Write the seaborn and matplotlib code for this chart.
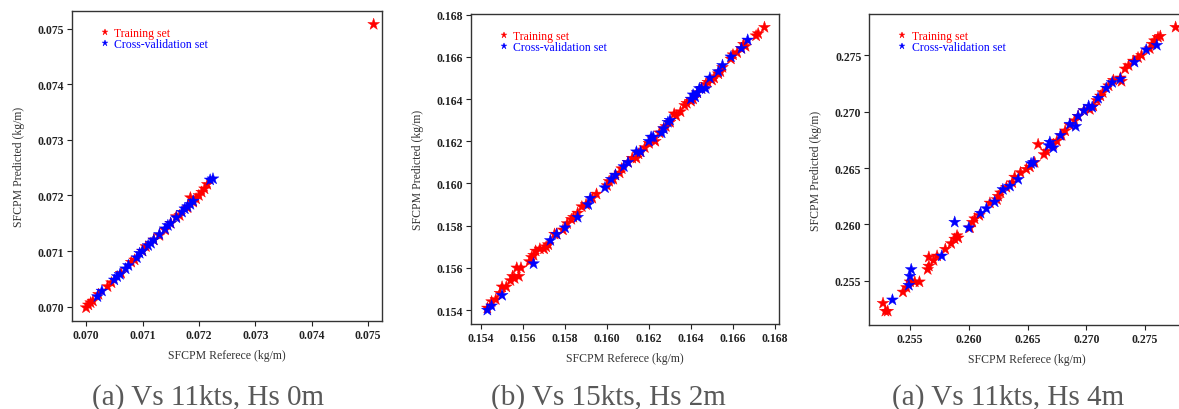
import matplotlib
matplotlib.use("Agg")
import matplotlib.pyplot as plt
import seaborn as sns
import pandas as pd

# ---------------- data ----------------
# Panel (a) Vs 11kts, Hs 0m
p1_train_x = [0.07000, 0.07004, 0.07008, 0.07012, 0.07022, 0.07038, 0.07045, 0.07062, 0.07080, 0.07086,
              0.07100, 0.07106, 0.07120, 0.07130, 0.07140, 0.07150, 0.07160, 0.07166, 0.07180, 0.07185,
              0.07190, 0.07195, 0.07200, 0.07205, 0.07210, 0.07215, 0.07510]
p1_train_y = [0.06998, 0.07003, 0.07007, 0.07010, 0.07022, 0.07036, 0.07043, 0.07060, 0.07080, 0.07084,
              0.07100, 0.07108, 0.07120, 0.07128, 0.07138, 0.07150, 0.07162, 0.07164, 0.07178, 0.07196,
              0.07188, 0.07194, 0.07200, 0.07206, 0.07212, 0.07220, 0.07508]
p1_cv_x = [0.07020, 0.07028, 0.07050, 0.07055, 0.07060, 0.07070, 0.07075, 0.07090, 0.07095, 0.07100,
           0.07110, 0.07115, 0.07120, 0.07130, 0.07140, 0.07145, 0.07150, 0.07160, 0.07170, 0.07175,
           0.07180, 0.07185, 0.07190, 0.07220, 0.07225]
p1_cv_y = [0.07018, 0.07028, 0.07048, 0.07054, 0.07058, 0.07068, 0.07074, 0.07088, 0.07096, 0.07100,
           0.07110, 0.07114, 0.07120, 0.07130, 0.07140, 0.07146, 0.07150, 0.07160, 0.07170, 0.07176,
           0.07180, 0.07184, 0.07190, 0.07228, 0.07230]

# Panel (b) Vs 15kts, Hs 2m
p2_train_x = [0.1543, 0.1545, 0.1547, 0.1549, 0.1550, 0.1552, 0.1554, 0.1555, 0.1556, 0.1557,
              0.1558, 0.1559, 0.1563, 0.1564, 0.1565, 0.1566, 0.1568, 0.1570, 0.1571, 0.1572,
              0.1575, 0.1576, 0.1579, 0.1581, 0.1583, 0.1584, 0.1586, 0.1588, 0.1590, 0.1593,
              0.1595, 0.1600, 0.1601, 0.1603, 0.1604, 0.1606, 0.1607, 0.1610, 0.1612, 0.1614,
              0.1615, 0.1616, 0.1618, 0.1620, 0.1622, 0.1623, 0.1625, 0.1627, 0.1628, 0.1630,
              0.1632, 0.1633, 0.1635, 0.1637, 0.1638, 0.1640, 0.1641, 0.1643, 0.1645, 0.1647,
              0.1648, 0.1650, 0.1651, 0.1653, 0.1654, 0.1655, 0.1659, 0.1660, 0.1662, 0.1664,
              0.1665, 0.1666, 0.1671, 0.1672, 0.1675]
p2_train_y = [0.1541, 0.1544, 0.1545, 0.1548, 0.1551, 0.1551, 0.1554, 0.1556, 0.1555, 0.1560,
              0.1556, 0.1560, 0.1563, 0.1565, 0.1566, 0.1568, 0.1569, 0.1569, 0.1570, 0.1571,
              0.1576, 0.1576, 0.1578, 0.1581, 0.1583, 0.1584, 0.1586, 0.1589, 0.1590, 0.1593,
              0.1595, 0.1599, 0.1601, 0.1602, 0.1604, 0.1605, 0.1607, 0.1610, 0.1612, 0.1612,
              0.1614, 0.1615, 0.1617, 0.1619, 0.1621, 0.1620, 0.1624, 0.1626, 0.1627, 0.1629,
              0.1633, 0.1632, 0.1634, 0.1637, 0.1638, 0.1639, 0.1640, 0.1643, 0.1645, 0.1647,
              0.1648, 0.1649, 0.1650, 0.1652, 0.1653, 0.1655, 0.1659, 0.1661, 0.1662, 0.1664,
              0.1666, 0.1665, 0.1670, 0.1671, 0.1674]
p2_cv_x = [0.1543, 0.1545, 0.1550, 0.1565, 0.1573, 0.1576, 0.1580, 0.1586, 0.1591, 0.1592,
           0.1599, 0.1602, 0.1604, 0.1608, 0.1610, 0.1614, 0.1616, 0.1620, 0.1621, 0.1622,
           0.1626, 0.1627, 0.1629, 0.1630, 0.1640, 0.1641, 0.1642, 0.1643, 0.1644, 0.1645,
           0.1647, 0.1649, 0.1653, 0.1655, 0.1659, 0.1664, 0.1667]
p2_cv_y = [0.1540, 0.1542, 0.1547, 0.1562, 0.1573, 0.1576, 0.1579, 0.1584, 0.1590, 0.1593,
           0.1598, 0.1602, 0.1604, 0.1608, 0.1610, 0.1615, 0.1615, 0.1620, 0.1622, 0.1622,
           0.1624, 0.1626, 0.1629, 0.1630, 0.1640, 0.1642, 0.1641, 0.1643, 0.1645, 0.1645,
           0.1645, 0.1650, 0.1653, 0.1656, 0.1660, 0.1664, 0.1668]

# Panel (a) Vs 11kts, Hs 4m
p3_train_x = [0.2527, 0.2531, 0.2529, 0.2544, 0.2547, 0.2550, 0.2554, 0.2558, 0.2565, 0.2566,
              0.2566, 0.2570, 0.2573, 0.2580, 0.2585, 0.2588, 0.2590, 0.2591, 0.2601, 0.2603,
              0.2605, 0.2609, 0.2618, 0.2624, 0.2625, 0.2627, 0.2632, 0.2637, 0.2639, 0.2644,
              0.2649, 0.2652, 0.2656, 0.2659, 0.2664, 0.2666, 0.2672, 0.2675, 0.2679, 0.2682,
              0.2686, 0.2690, 0.2693, 0.2698, 0.2703, 0.2706, 0.2709, 0.2712, 0.2714, 0.2719,
              0.2723, 0.2729, 0.2730, 0.2733, 0.2736, 0.2740, 0.2744, 0.2747, 0.2754, 0.2756,
              0.2758, 0.2761, 0.2763, 0.2776]
p3_train_y = [0.2530, 0.2523, 0.2523, 0.2540, 0.2544, 0.2549, 0.2549, 0.2549, 0.2560, 0.2563,
              0.2571, 0.2568, 0.2572, 0.2578, 0.2583, 0.2587, 0.2590, 0.2588, 0.2597, 0.2602,
              0.2605, 0.2608, 0.2619, 0.2622, 0.2625, 0.2628, 0.2633, 0.2637, 0.2642, 0.2646,
              0.2649, 0.2651, 0.2655, 0.2671, 0.2662, 0.2665, 0.2671, 0.2674, 0.2679, 0.2683,
              0.2688, 0.2692, 0.2696, 0.2701, 0.2702, 0.2705, 0.2710, 0.2714, 0.2717, 0.2723,
              0.2728, 0.2730, 0.2727, 0.2738, 0.2741, 0.2745, 0.2748, 0.2750, 0.2756, 0.2760,
              0.2763, 0.2766, 0.2767, 0.2775]
p3_cv_x = [0.2535, 0.2549, 0.2550, 0.2551, 0.2577, 0.2588, 0.2600, 0.2610, 0.2615, 0.2622,
           0.2629, 0.2635, 0.2642, 0.2653, 0.2655, 0.2668, 0.2669, 0.2672, 0.2678, 0.2686,
           0.2691, 0.2693, 0.2698, 0.2702, 0.2705, 0.2710, 0.2717, 0.2722, 0.2729, 0.2741,
           0.2751, 0.2760]
p3_cv_y = [0.2533, 0.2546, 0.2554, 0.2560, 0.2572, 0.2602, 0.2597, 0.2610, 0.2614, 0.2620,
           0.2631, 0.2634, 0.2640, 0.2654, 0.2655, 0.2670, 0.2673, 0.2668, 0.2679, 0.2689,
           0.2687, 0.2696, 0.2701, 0.2705, 0.2704, 0.2712, 0.2721, 0.2726, 0.2729, 0.2744,
           0.2755, 0.2759]

p1_ticks = [0.070, 0.071, 0.072, 0.073, 0.074, 0.075]
p2_ticks = [0.154, 0.156, 0.158, 0.160, 0.162, 0.164, 0.166, 0.168]
p3_ticks = [0.255, 0.260, 0.265, 0.270, 0.275]

captions = ["(a) Vs 11kts, Hs 0m", "(b) Vs 15kts, Hs 2m", "(a) Vs 11kts, Hs 4m"]
series_names = ["Training set", "Cross-validation set"]
x_label = "SFCPM Referece (kg/m)"
y_label = "SFCPM Predicted (kg/m)"

# ---------------- style ----------------
sns.set_style("ticks")
plt.rcParams["font.family"] = ["Liberation Serif", "DejaVu Serif"]

fig = plt.figure(figsize=(11.79, 4.10), dpi=100)

panels = [
    (p1_train_x, p1_train_y, p1_cv_x, p1_cv_y, p1_ticks, (0.06975, 0.07525), (0.06974, 0.07532),
     [0.0611, 0.2146, 0.2630, 0.7561], 0.176),
    (p2_train_x, p2_train_y, p2_cv_x, p2_cv_y, p2_ticks, (0.15352, 0.16819), (0.15334, 0.16803),
     [0.3995, 0.2073, 0.2612, 0.7561], 0.516),
    (p3_train_x, p3_train_y, p3_cv_x, p3_cv_y, p3_ticks, (0.25151, 0.27840), (0.25107, 0.27867),
     [0.7371, 0.2049, 0.2680, 0.7585], 0.855),
]

palette = {series_names[0]: "#ff0000", series_names[1]: "#0000ff"}

for i, (tx, ty, cx, cy, ticks, xl, yl, pos, capx) in enumerate(panels):
    ax = fig.add_axes(pos)
    df = pd.DataFrame({
        "ref": list(tx) + list(cx),
        "pred": list(ty) + list(cy),
        "set": [series_names[0]] * len(tx) + [series_names[1]] * len(cx),
    })
    sns.scatterplot(data=df, x="ref", y="pred", hue="set", palette=palette, marker="*",
                    s=80, linewidth=0.3, edgecolor="face", ax=ax, legend=True)
    ax.set_xlim(*xl)
    ax.set_ylim(*yl)
    ax.set_xticks(ticks)
    ax.set_yticks(ticks)
    ax.set_xticklabels(["%.3f" % v for v in ticks], fontweight="bold", fontsize=8.5)
    ax.set_yticklabels(["%.3f" % v for v in ticks], fontweight="bold", fontsize=8.5)
    ax.tick_params(direction="out", length=3.5, width=0.8, colors="#222222", pad=2)
    for sp in ax.spines.values():
        sp.set_color("#333333")
        sp.set_linewidth(1.0)
    ax.set_xlabel(x_label, fontsize=8.5, color="#333333", labelpad=6)
    ax.set_ylabel(y_label, fontsize=8.5, color="#333333", labelpad=9)
    ax.legend(loc="upper left", bbox_to_anchor=(0.06, 0.975), frameon=False, fontsize=8.5,
              handletextpad=0.3, labelspacing=-0.1, borderaxespad=0.3,
              markerscale=0.5, handlelength=1.0, labelcolor="markerfacecolor")
    fig.text(capx, 0.03, captions[i], ha="center", va="center", fontsize=21, color="#595959")

fig.savefig("out.png", dpi=100)
